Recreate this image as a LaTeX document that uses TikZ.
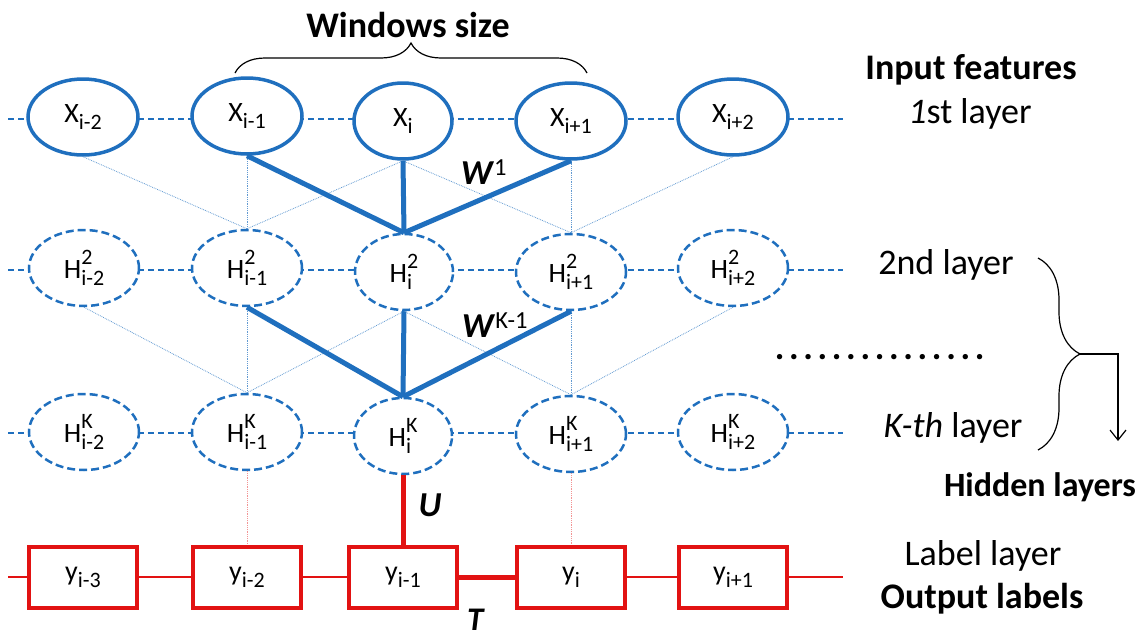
\documentclass[tikz,border=0pt]{standalone}
\usepackage{fontspec}
\setmainfont{Carlito}
\usetikzlibrary{shapes.geometric,decorations.pathreplacing,arrows.meta}
\definecolor{netblue}{RGB}{31,111,190}
\definecolor{netred}{RGB}{226,18,18}
\newcommand{\lo}[1]{{\fontsize{22}{22}\selectfont\raisebox{-0.32em}{#1}}}
\newcommand{\hlab}[2]{H{\fontsize{22}{22}\selectfont\ooalign{\raisebox{0.62em}{#1}\hfil\cr\raisebox{-0.32em}{#2}\hfil}}}
\tikzset{
  xcell/.style={ellipse,draw=netblue,line width=3.5pt,fill=white,minimum width=110pt,minimum height=76pt,inner sep=0pt,font=\fontsize{28}{32}\selectfont},
  hcell/.style={xcell,line width=2.5pt,dash pattern=on 8pt off 4pt},
  ycell/.style={rectangle,draw=netred,line width=4pt,fill=white,minimum width=108pt,minimum height=61pt,inner sep=0pt,font=\fontsize{28}{32}\selectfont},
  rowline/.style={netblue,line width=1.3pt,dash pattern=on 6pt off 4pt},
  thin/.style={netblue!70,line width=0.8pt,densely dotted},
  thick/.style={netblue,line width=5pt},
  wlabel/.style={font=\fontsize{35}{38}\selectfont,inner sep=1pt},
  sidelabel/.style={font=\fontsize{36}{40}\selectfont}
}
\begin{document}
\begin{tikzpicture}[x=1pt,y=-1pt]
\useasboundingbox (0,0) rectangle (1138,643);
% row lines
\draw[rowline] (8,119) -- (843,119);
\draw[rowline] (8,270) -- (843,270);
\draw[rowline] (8,433) -- (843,433);
\draw[netred,line width=1.3pt] (8,577) -- (843,577);
% input features
\node[xcell] (x1) at (83,117) {X\lo{i-2}};
\node[xcell] (x2) at (247,116) {X\lo{i-1}};
\node[xcell,minimum width=98pt] (x3) at (403,121) {X\lo{i}};
\node[xcell] (x4) at (571,121) {X\lo{i+1}};
\node[xcell] (x5) at (733,117) {X\lo{i+2}};
% 2nd layer
\node[hcell] (h1) at (84,268) {\hlab{2}{i-2}};
\node[hcell] (h2) at (247,268) {\hlab{2}{i-1}};
\node[hcell,minimum width=98pt] (h3) at (404,272) {\hlab{2}{i}};
\node[hcell] (h4) at (571,272) {\hlab{2}{i+1}};
\node[hcell] (h5) at (733,268) {\hlab{2}{i+2}};
% K-th layer
\node[hcell] (k1) at (84,432) {\hlab{K}{i-2}};
\node[hcell] (k2) at (247,432) {\hlab{K}{i-1}};
\node[hcell,minimum width=98pt] (k3) at (403,436) {\hlab{K}{i}};
\node[hcell] (k4) at (571,434) {\hlab{K}{i+1}};
\node[hcell] (k5) at (733,432) {\hlab{K}{i+2}};
% label layer
\node[ycell] (y1) at (83,577) {y\lo{i-3}};
\node[ycell] (y2) at (247,577) {y\lo{i-2}};
\node[ycell] (y3) at (403,577) {y\lo{i-1}};
\node[ycell] (y4) at (571,577) {y\lo{i}};
\node[ycell] (y5) at (733,577) {y\lo{i+1}};
% weights W1
\draw[thin] (x1.south) -- (h2.north);
\draw[thin] (x2.south) -- (h2.north);
\draw[thin] (x3.south) -- (h2.north);
\draw[thin] (x3.south) -- (h4.north);
\draw[thin] (x4.south) -- (h4.north);
\draw[thin] (x5.south) -- (h4.north);
\draw[thick] (x2.south) -- (h3.north);
\draw[thick] (x3.south) -- (h3.north);
\draw[thick] (x4.south) -- (h3.north);
% weights WK-1
\draw[thin] (h1.south) -- (k2.north);
\draw[thin] (h2.south) -- (k2.north);
\draw[thin] (h3.south) -- (k2.north);
\draw[thin] (h3.south) -- (k4.north);
\draw[thin] (h4.south) -- (k4.north);
\draw[thin] (h5.south) -- (k4.north);
\draw[thick] (h2.south) -- (k3.north);
\draw[thick] (h3.south) -- (k3.north);
\draw[thick] (h4.south) -- (k3.north);
% U and T
\draw[netred!45,line width=0.8pt,densely dotted] (k2.south) -- (y2.north);
\draw[netred!45,line width=0.8pt,densely dotted] (k4.south) -- (y4.north);
\draw[netred,line width=5pt] (k3.south) -- (y3.north);
\draw[netred,line width=5pt] (y3.east) -- (y4.west);
\node[wlabel] (w1) at (484,172) {\textbf{\textit{W}}\textsuperscript{1}};
\node[wlabel] (wk) at (495,325) {\textbf{\textit{W}}\textsuperscript{K-1}};
\node[wlabel] (u) at (430,505) {\textbf{\textit{U}}};
\node[wlabel,font=\fontsize{33}{36}\selectfont] (t) at (476,620) {\textbf{\textit{T}}};
% window
\node[sidelabel] (win) at (408,25) {\textbf{Windows size}};
\draw[line width=1.2pt,decorate,decoration={brace,amplitude=30pt}] (235,73) -- (587,73);
% side labels
\node[sidelabel] (inp) at (971,70) {\textbf{Input features}};
\node[sidelabel] (l1) at (970,114) {\textit{1}st layer};
\node[sidelabel] (l2) at (946,265) {2nd layer};
\node[sidelabel] (dots) at (882,357) {\textbf{\addfontfeatures{LetterSpace=13}...............}};
\node[sidelabel] (lk) at (953,428) {\textit{K-th} layer};
\node[sidelabel,font=\fontsize{34}{38}\selectfont] (hid) at (1040,487) {\textbf{Hidden layers}};
\node[sidelabel] (lab) at (983,556) {Label layer};
\node[sidelabel] (out) at (982,599) {\textbf{Output labels}};
\draw[line width=1.2pt,decorate,decoration={brace,amplitude=42pt}] (1038,258) -- (1038,450);
\coordinate (tip) at (1080,354);
\draw[line width=1.2pt,-{Straight Barb[length=10pt,width=16pt]}] (tip) -- (1118,354) -- (1118,441);
\end{tikzpicture}
\end{document}
